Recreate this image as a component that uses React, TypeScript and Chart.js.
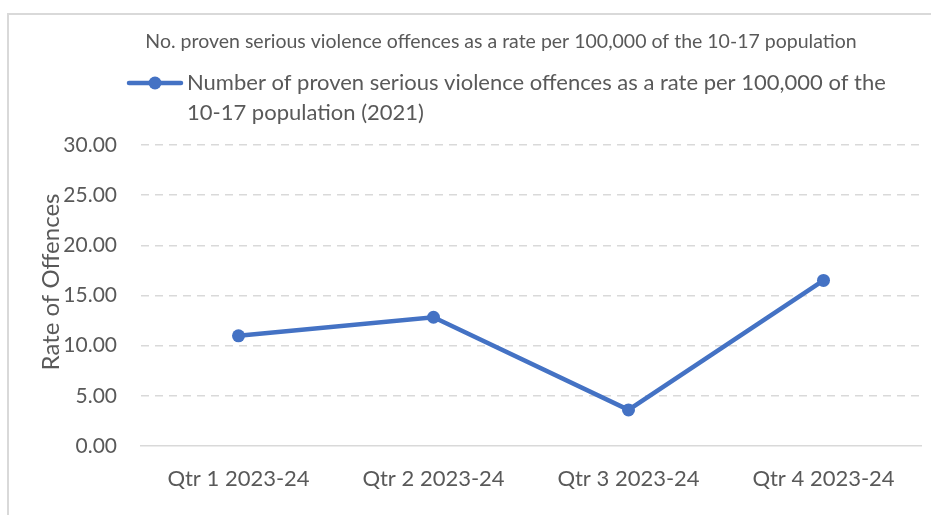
import React, { useEffect, useRef } from "react";
import { Chart, registerables } from "chart.js";

Chart.register(...registerables);

const categories = ["Qtr 1 2023-24", "Qtr 2 2023-24", "Qtr 3 2023-24", "Qtr 4 2023-24"];
const rateValues = [10.98, 12.83, 3.6, 16.5];
const chartTitle = "No. proven serious violence offences as a rate per 100,000 of the 10-17 population";
const seriesLabelLines = [
  "Number of proven serious violence offences as a rate per 100,000 of the",
  "10-17 population (2021)",
];
const yAxisTitle = "Rate of Offences";

const FONT = "Lato";
const TEXT = "#595959";
const BLUE = "#4472C4";
const GRID = "#d9d9d9";

const decorPlugin = {
  id: "decor",
  beforeDraw(chart: any) {
    const ctx = chart.ctx;
    ctx.save();
    ctx.fillStyle = "#ffffff";
    ctx.fillRect(0, 0, chart.width, chart.height);
    ctx.fillStyle = GRID;
    ctx.fillRect(7, 13, chart.width - 7, 2);
    ctx.fillRect(7, 13, 2, chart.height - 13);
    ctx.restore();
  },
  afterDraw(chart: any) {
    const ctx = chart.ctx;
    ctx.save();
    // title
    ctx.fillStyle = TEXT;
    ctx.textBaseline = "middle";
    ctx.textAlign = "center";
    ctx.font = `19.5px ${FONT}`;
    ctx.fillText(chartTitle, 501, 42);
    // legend
    ctx.strokeStyle = BLUE;
    ctx.lineWidth = 4.5;
    ctx.lineCap = "round";
    ctx.beginPath();
    ctx.moveTo(129, 83);
    ctx.lineTo(181, 83);
    ctx.stroke();
    ctx.fillStyle = BLUE;
    ctx.beginPath();
    ctx.arc(155, 83, 6.5, 0, Math.PI * 2);
    ctx.fill();
    ctx.fillStyle = TEXT;
    ctx.textAlign = "left";
    ctx.font = `22px ${FONT}`;
    ctx.fillText(seriesLabelLines[0], 187, 83);
    ctx.fillText(seriesLabelLines[1], 187, 113);
    // y axis title
    ctx.translate(51, 282);
    ctx.rotate(-Math.PI / 2);
    ctx.textAlign = "center";
    ctx.font = `24px ${FONT}`;
    ctx.fillText(yAxisTitle, 0, 0);
    ctx.restore();
  },
};

export default function App() {
  const ref = useRef<HTMLCanvasElement | null>(null);
  useEffect(() => {
    if (!ref.current) return;
    const chart = new Chart(ref.current, {
      type: "line",
      data: {
        labels: categories,
        datasets: [
          {
            label: seriesLabelLines.join(" "),
            data: rateValues,
            borderColor: BLUE,
            backgroundColor: BLUE,
            borderWidth: 4.5,
            pointRadius: 6.5,
            pointHoverRadius: 6.5,
            pointBackgroundColor: BLUE,
            pointBorderWidth: 0,
            tension: 0,
          },
        ],
      },
      options: {
        responsive: false,
        animation: false,
        layout: { padding: { top: 145, right: 10, bottom: 0, left: 0 } },
        plugins: {
          legend: { display: false },
          title: { display: false },
          tooltip: { enabled: false },
        },
        scales: {
          x: {
            offset: true,
            grid: { display: false, drawTicks: false },
            border: { display: true, color: GRID, width: 1.5 },
            ticks: {
              color: TEXT,
              font: { family: FONT, size: 22 },
              padding: 20,
              maxRotation: 0,
            },
            afterFit: (s: any) => {
              s.height = 69;
            },
          },
          y: {
            min: 0,
            max: 30,
            grid: {
              drawTicks: false,
              lineWidth: 1.5,
              color: (c: any) => (c.tick && c.tick.value === 0 ? "rgba(0,0,0,0)" : GRID),
            },
            border: { display: false, dash: [8, 6] },
            ticks: {
              stepSize: 5,
              color: TEXT,
              font: { family: FONT, size: 21 },
              padding: 24,
              callback: (v: any) => Number(v).toFixed(2),
            },
            afterFit: (s: any) => {
              s.width = 141;
            },
          },
        },
      },
      plugins: [decorPlugin],
    });
    return () => chart.destroy();
  }, []);
  return (
    <div style={{ position: "absolute", left: 0, top: 0, width: 931, height: 515 }}>
      <canvas ref={ref} width={931} height={515} />
    </div>
  );
}
